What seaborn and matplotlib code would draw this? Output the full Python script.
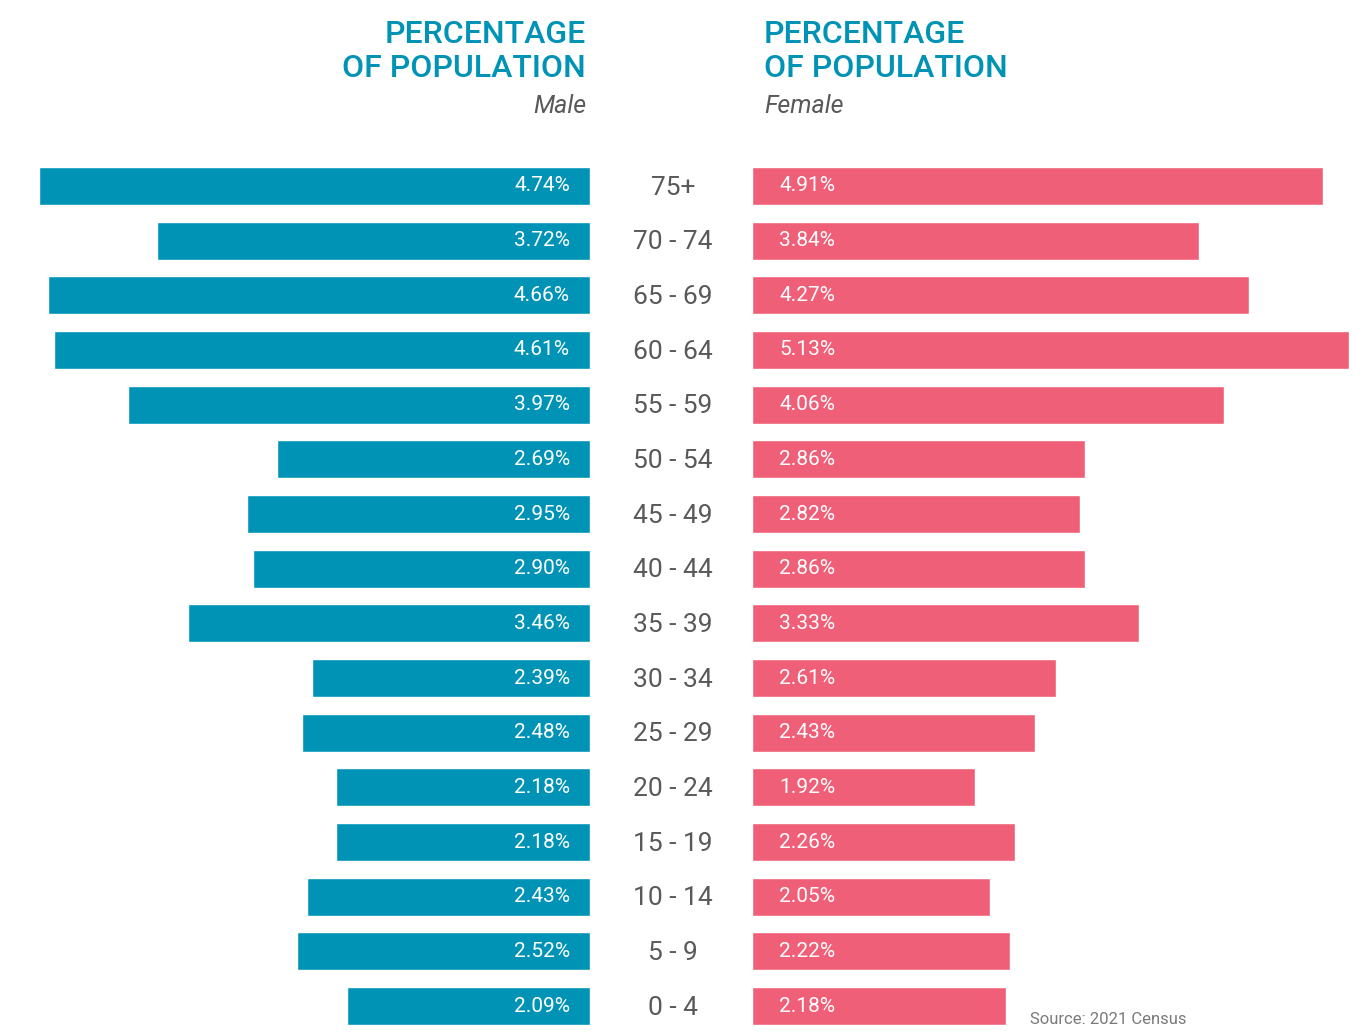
import matplotlib.pyplot as plt
import matplotlib.transforms as mtransforms
import pandas as pd
import seaborn as sns

# age groups, top to bottom
ages = ['75+', '70 - 74', '65 - 69', '60 - 64', '55 - 59', '50 - 54', '45 - 49',
        '40 - 44', '35 - 39', '30 - 34', '25 - 29', '20 - 24', '15 - 19',
        '10 - 14', '5 - 9', '0 - 4']
male = [4.74, 3.72, 4.66, 4.61, 3.97, 2.69, 2.95, 2.90, 3.46, 2.39, 2.48,
        2.18, 2.18, 2.43, 2.52, 2.09]
female = [4.91, 3.84, 4.27, 5.13, 4.06, 2.86, 2.82, 2.86, 3.33, 2.61, 2.43,
          1.92, 2.26, 2.05, 2.22, 2.18]

df = pd.DataFrame({'age': ages, 'male': male, 'female': female})

teal = '#0093b6'
pink = '#f05f78'
grey = '#595959'

sns.set_theme(style='white')
plt.rcParams['font.family'] = ['Roboto', 'DejaVu Sans']

W, H = 1371, 1036
fig = plt.figure(figsize=(W / 100, H / 100), dpi=100)

# pixel layout
px_per_pct = 116.3
left_edge = 590
right_start = 752
ylims = (15.548, -3.402)

ax_m = fig.add_axes([0, 0, left_edge / W, 1])
ax_f = fig.add_axes([right_start / W, 0, (W - right_start) / W, 1])

sns.barplot(data=df, x='male', y='age', order=ages, ax=ax_m, color=teal,
            width=0.695, orient='h', saturation=1)
sns.barplot(data=df, x='female', y='age', order=ages, ax=ax_f, color=pink,
            width=0.695, orient='h', saturation=1)

ax_m.set_xlim(left_edge / px_per_pct, 0)
ax_f.set_xlim(0, (W - right_start) / px_per_pct)
for ax in (ax_m, ax_f):
    ax.set_ylim(*ylims)
    ax.set_xlabel('')
    ax.set_ylabel('')
    ax.set_xticks([])
    ax.set_yticks([])
    sns.despine(ax=ax, left=True, bottom=True)
    ax.patch.set_alpha(0)

# value labels
for i, (m, f) in enumerate(zip(male, female)):
    ax_m.text(20 / px_per_pct, i, f'{m:.2f}%', ha='right', va='center',
              color='white', fontsize=15)
    ax_f.text(27 / px_per_pct, i, f'{f:.2f}%', ha='left', va='center',
              color='white', fontsize=15)

# age labels in the middle
trans = mtransforms.blended_transform_factory(fig.transFigure, ax_m.transData)
for i, a in enumerate(ages):
    fig.text(673 / W, i + 0.03, a, transform=trans, ha='center', va='center',
             color=grey, fontsize=19)

# headers
def fy(p):
    return 1 - p / H

for x, ha, lab in [(586 / W, 'right', 'Male'), (764 / W, 'left', 'Female')]:
    fig.text(x, fy(43), 'PERCENTAGE', ha=ha, va='baseline', color=teal,
             fontsize=23, fontweight='medium')
    fig.text(x, fy(77), 'OF POPULATION', ha=ha, va='baseline', color=teal,
             fontsize=23, fontweight='medium')
    fig.text(x, fy(113), lab, ha=ha, va='baseline', color=grey,
             fontsize=18, style='italic')

fig.text(1187 / W, fy(1024), 'Source: 2021 Census', ha='right', va='baseline',
         color='#7a7a7a', fontsize=12)

fig.savefig('out.png', dpi=100, facecolor='white')
